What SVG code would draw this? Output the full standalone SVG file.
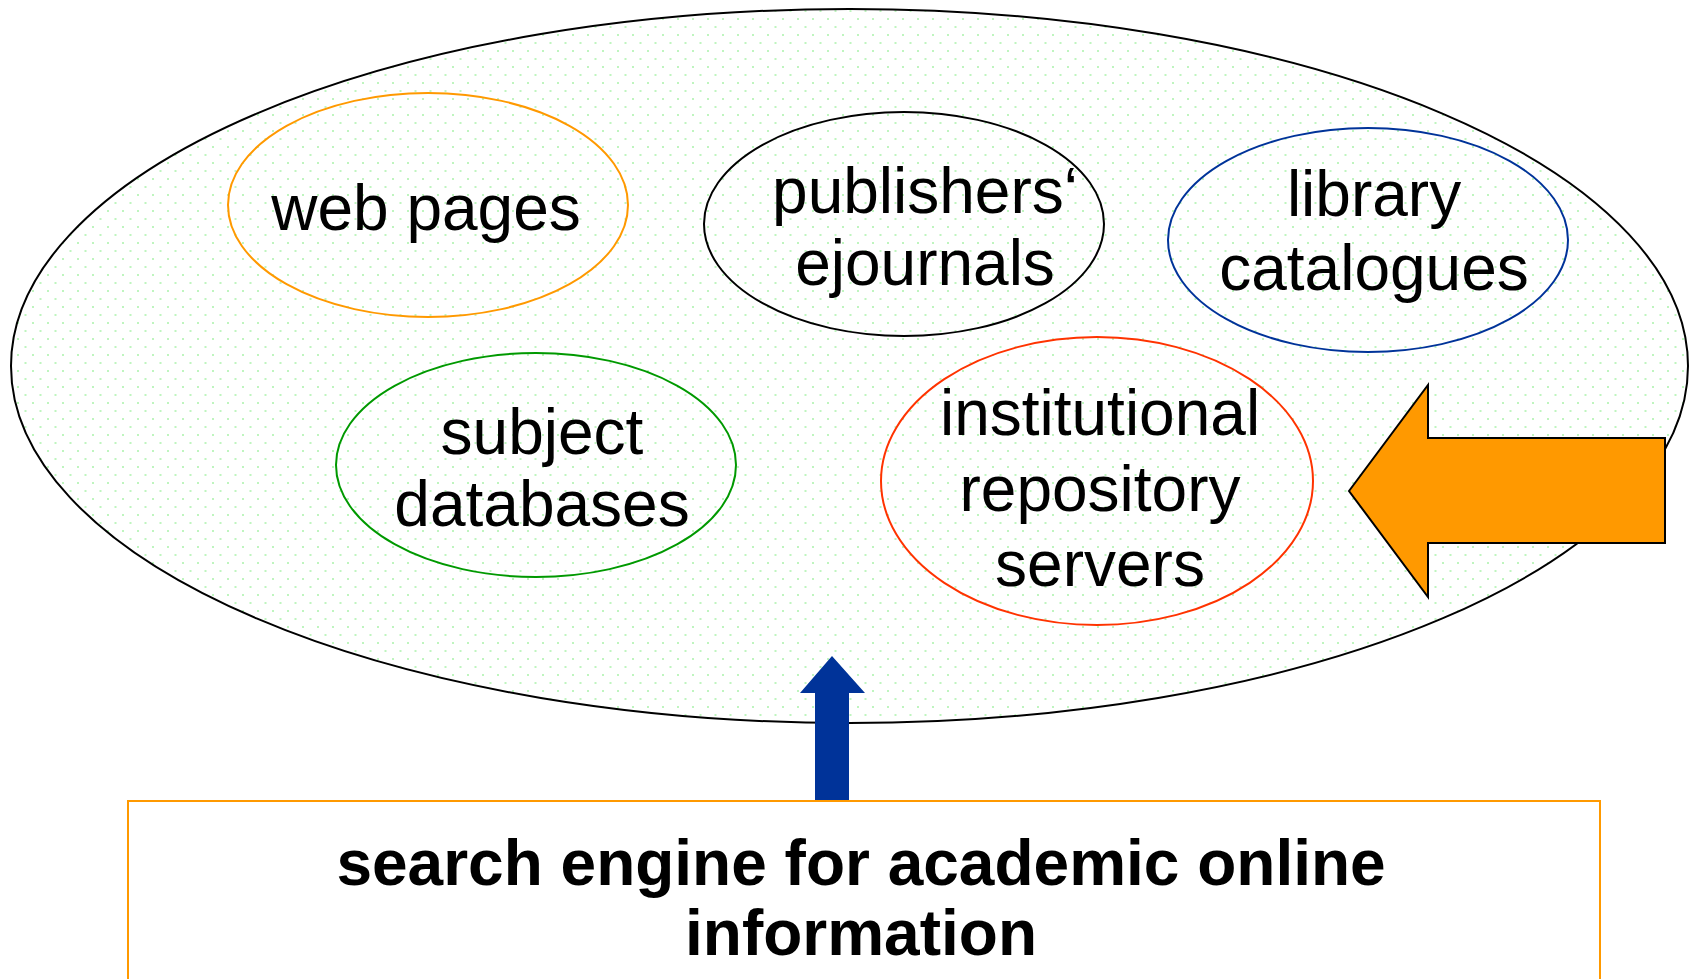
<svg xmlns="http://www.w3.org/2000/svg" width="1694" height="979" viewBox="0 0 1694 979">
<style>
.lbl{font-family:"Liberation Sans",Arial,sans-serif;font-size:64px;fill:#000;text-anchor:middle}
.bold{font-weight:bold}
.inner{fill:none;stroke-width:2}
</style>
<defs>
<pattern id="dots" width="15" height="16" patternUnits="userSpaceOnUse">
<rect width="15" height="16" fill="#fff"/>
<rect x="2" y="2" width="2" height="2" fill="#bff5bf"/>
<rect x="9.5" y="10" width="2" height="2" fill="#bff5bf"/>
</pattern>
</defs>
<rect width="1694" height="979" fill="#fff"/>
<g id="universe">
<ellipse cx="849.5" cy="366" rx="838.5" ry="357" fill="url(#dots)" stroke="#000" stroke-width="2"/>
</g>
<g id="web-pages">
<ellipse class="inner" cx="428" cy="205" rx="200" ry="112" stroke="#ff9900"/>
<text class="lbl" x="426" y="230">web pages</text>
</g>
<g id="publishers">
<ellipse class="inner" cx="904" cy="224" rx="200" ry="112" stroke="#000"/>
<text class="lbl" x="925" y="213">publishers‘</text>
<text class="lbl" x="925" y="285">ejournals</text>
</g>
<g id="library">
<ellipse class="inner" cx="1368" cy="240" rx="200" ry="112" stroke="#003399"/>
<text class="lbl" x="1374" y="216">library</text>
<text class="lbl" x="1374" y="290">catalogues</text>
</g>
<g id="subject">
<ellipse class="inner" cx="536" cy="465" rx="200" ry="112" stroke="#009900"/>
<text class="lbl" x="542" y="454">subject</text>
<text class="lbl" x="542" y="526">databases</text>
</g>
<g id="institutional">
<ellipse class="inner" cx="1097" cy="481" rx="216" ry="144" stroke="#ff3300"/>
<text class="lbl" x="1100" y="435">institutional</text>
<text class="lbl" x="1100" y="511">repository</text>
<text class="lbl" x="1100" y="586">servers</text>
</g>
<g id="connectors">
<polygon points="1349,491 1428,385 1428,438 1665,438 1665,543 1428,543 1428,597" fill="#ff9900" stroke="#000" stroke-width="2" stroke-linejoin="miter"/>
<polygon points="832,656 865,693 849,693 849,801 815,801 815,693 800,693" fill="#003399"/>
</g>
<g id="search-engine">
<rect x="128" y="801" width="1472" height="200" fill="none" stroke="#ff9900" stroke-width="2"/>
<text class="lbl bold" x="861" y="885">search engine for academic online</text>
<text class="lbl bold" x="861" y="955">information</text>
</g>
</svg>
